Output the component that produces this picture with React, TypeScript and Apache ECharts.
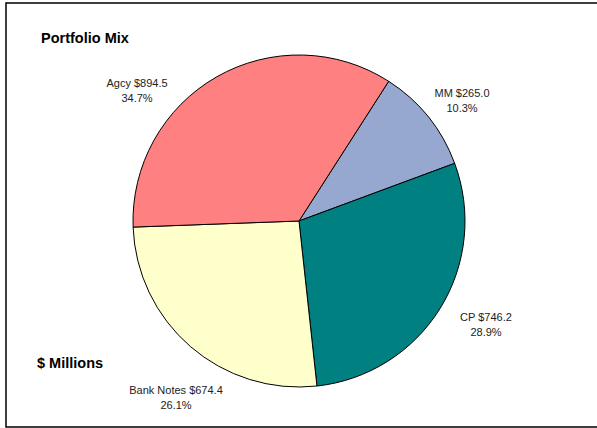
import React, { useEffect, useRef } from "react";
import * as echarts from "echarts";

const categories = ["MM", "CP", "Bank Notes", "Agcy"];
const values = [265.0, 746.2, 674.4, 894.5];
const colors = ["#96A7D0", "#008080", "#FFFFCC", "#FF8080"];
const titleText = "Portfolio Mix";
const unitText = "$ Millions";

// label anchor points (layout, not data)
const labelPos: [number, number][] = [
  [462, 100],
  [486, 324],
  [176, 397],
  [137, 90],
];

export default function App() {
  const ref = useRef<HTMLDivElement>(null);
  useEffect(() => {
    if (!ref.current) return;
    const chart = echarts.init(ref.current, null, { renderer: "svg" });
    chart.setOption({
      animation: false,
      backgroundColor: "#ffffff",
      graphic: [
        {
          type: "rect",
          shape: { x: 6, y: 3, width: 600, height: 424 },
          style: { fill: "none", stroke: "#000", lineWidth: 1.5 },
          z: 10,
        },
        {
          type: "text",
          x: 41,
          y: 38,
          style: {
            text: titleText,
            font: "bold 14.5px 'Liberation Sans', Arial, sans-serif",
            fill: "#000",
            textVerticalAlign: "middle",
          },
        },
        {
          type: "text",
          x: 37,
          y: 363,
          style: {
            text: unitText,
            font: "bold 14.5px 'Liberation Sans', Arial, sans-serif",
            fill: "#000",
            textVerticalAlign: "middle",
          },
        },
      ],
      series: [
        {
          type: "pie",
          center: [299, 221],
          radius: 166,
          startAngle: 57.3,
          clockwise: true,
          percentPrecision: 1,
          avoidLabelOverlap: false,
          data: categories.map((c, i) => ({
            name: c,
            value: values[i],
            itemStyle: { color: colors[i] },
          })),
          itemStyle: { borderColor: "#000", borderWidth: 1 },
          emphasis: { disabled: true },
          label: {
            show: true,
            position: "outside",
            formatter: (p: any) =>
              `${p.name} $${Number(p.value).toFixed(1)}\n${p.percent.toFixed(1)}%`,
            fontFamily: "'Liberation Sans', Arial, sans-serif",
            fontSize: 11,
            lineHeight: 15,
            color: "#222",
            align: "center",
          },
          labelLine: { show: false },
          labelLayout: (params: any) => ({
            x: labelPos[params.dataIndex][0],
            y: labelPos[params.dataIndex][1],
            align: "center",
            verticalAlign: "middle",
          }),
        },
      ],
    });
    return () => chart.dispose();
  }, []);
  return (
    <div
      ref={ref}
      style={{ position: "fixed", left: 0, top: 0, width: 597, height: 428 }}
    />
  );
}
